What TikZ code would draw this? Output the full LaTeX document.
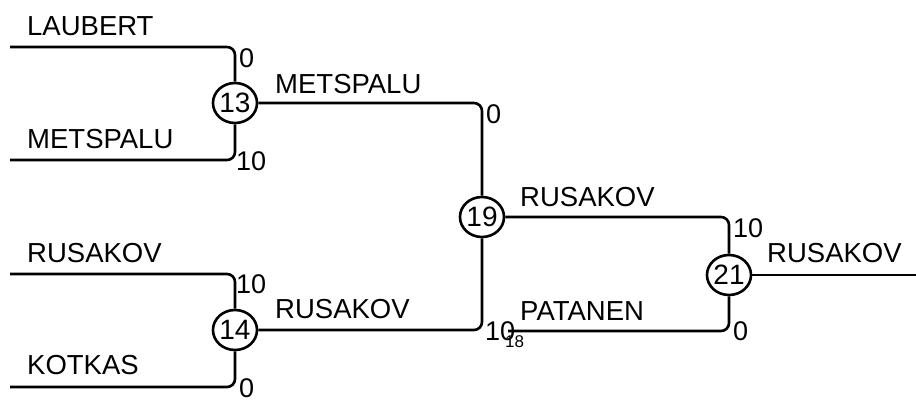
\documentclass[tikz,border=0pt]{standalone}
\usepackage{fontspec}
\usetikzlibrary{shapes.geometric}
\setmainfont{Liberation Sans}
\begin{document}
\begin{tikzpicture}[x=1pt,y=-1pt,
  wire/.style={draw=black,line width=2.6pt,rounded corners=8pt},
  match/.style={ellipse,draw=black,line width=2.6pt,minimum width=43pt,minimum height=40pt,inner sep=0pt,fill=white,font=\fontsize{28}{28}\selectfont},
  pname/.style={anchor=base west,inner sep=0pt,font=\fontsize{27.5}{27.5}\selectfont},
  score/.style={anchor=base west,inner sep=0pt,font=\fontsize{27}{27}\selectfont},
  small/.style={anchor=base west,inner sep=0pt,font=\fontsize{17}{17}\selectfont}]
\useasboundingbox (0,0) rectangle (916,404);
% entry points
\coordinate (a1) at (10,47);
\coordinate (a2) at (10,160);
\coordinate (a3) at (10,274);
\coordinate (a4) at (10,387);
\coordinate (m18) at (508,331);
\coordinate (out) at (916,275);
% matches
\node[match] (m13) at (235,103) {13};
\node[match] (m14) at (235,330) {14};
\node[match] (m19) at (482,217) {19};
\node[match] (m21) at (729,275) {21};
% connectors
\draw[wire] (a1) -| (m13.north);
\draw[wire] (a2) -| (m13.south);
\draw[wire] (a3) -| (m14.north);
\draw[wire] (a4) -| (m14.south);
\draw[wire] (m13.east) -| (m19.north);
\draw[wire] (m14.east) -| (m19.south);
\draw[wire] (m19.east) -| (m21.north);
\draw[wire] (m18) -| (m21.south);
\draw[wire] (m21.east) -- (out);
% names
\node[pname] (n1) at (27,36) {LAUBERT};
\node[pname] (n2) at (27,148) {METSPALU};
\node[pname] (n3) at (27,262) {RUSAKOV};
\node[pname] (n4) at (27,374) {KOTKAS};
\node[pname] (n5) at (275,94) {METSPALU};
\node[pname] (n6) at (275,318) {RUSAKOV};
\node[pname] (n7) at (520,206) {RUSAKOV};
\node[pname] (n8) at (520,320) {PATANEN};
\node[pname] (n9) at (767,262) {RUSAKOV};
% scores
\node[score] (s1) at (239,67) {0};
\node[score] (s2) at (236,170) {10};
\node[score] (s3) at (236,293) {10};
\node[score] (s4) at (239,397) {0};
\node[score] (s5) at (486,123) {0};
\node[score] (s6) at (485,340) {10};
\node[score] (s7) at (733,237) {10};
\node[score] (s8) at (733,340) {0};
\node[small] (l18) at (505,347) {18};
\end{tikzpicture}
\end{document}
